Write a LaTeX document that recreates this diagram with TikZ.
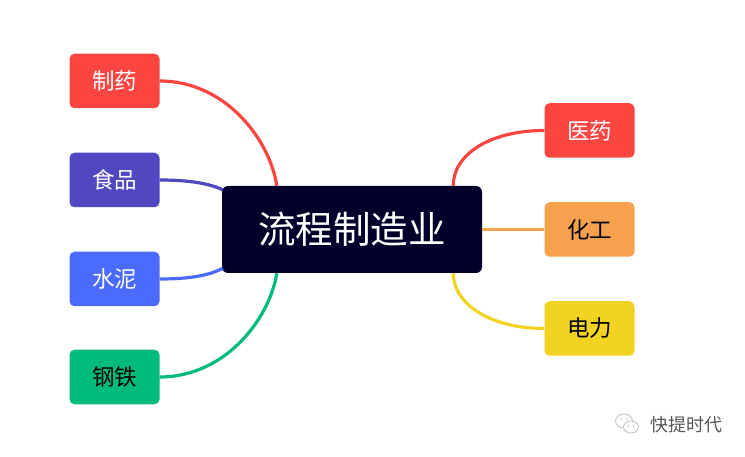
\documentclass[tikz,border=0pt]{standalone}
\usepackage{fontspec}
\setmainfont{Noto Sans CJK SC}
\usetikzlibrary{calc}
\definecolor{cred}{HTML}{FA4540}
\definecolor{cpurple}{HTML}{5048C0}
\definecolor{cblue}{HTML}{4A6BFE}
\definecolor{cgreen}{HTML}{00BC7A}
\definecolor{cnavy}{HTML}{00002A}
\definecolor{corange}{HTML}{F5A14D}
\definecolor{cyellow}{HTML}{F2D322}
\definecolor{cgray}{HTML}{555555}
\definecolor{clight}{HTML}{BBBBBB}
\tikzset{
  leaf/.style={rounded corners=5pt, minimum width=90pt, minimum height=54.5pt, inner sep=0pt, font=\fontsize{22.5}{22.5}\selectfont},
  rootbox/.style={fill=cnavy, rounded corners=6pt, minimum width=260pt, minimum height=87pt, inner sep=0pt, text=white, font=\fontsize{37.5}{37.5}\selectfont},
  link/.style={line width=3.2pt}
}
\begin{document}
\begin{tikzpicture}[x=1pt,y=-1pt]
\useasboundingbox (0,0) rectangle (745,457);
% root
\node[rootbox] (root) at (352,229.5) {流程制造业};
% left leaves
\node[leaf, fill=cred, text=white] (zy) at (114.5,81) {制药};
\node[leaf, fill=cpurple, text=white] (sp) at (114.5,180) {食品};
\node[leaf, fill=cblue, text=white] (sn) at (114.5,279) {水泥};
\node[leaf, fill=cgreen, text=black] (gt) at (114.5,377) {钢铁};
% right leaves
\node[leaf, fill=cred, text=white] (yy) at (589.5,130.5) {医药};
\node[leaf, fill=corange, text=black] (hg) at (589.5,229.5) {化工};
\node[leaf, fill=cyellow, text=black] (dl) at (589.5,328.5) {电力};
% connectors
\draw[link, cred] (zy.east) .. controls +(66,0) and +(-7,-46) .. ($(root.north west)+(55,0)$);
\draw[link, cpurple] (sp.east) .. controls +(31,0) and +(-13,-6) .. ($(root.north west)+(1,4)$);
\draw[link, cblue] (sn.east) .. controls +(31,0) and +(-13,7) .. ($(root.south west)+(1,-5)$);
\draw[link, cgreen] (gt.east) .. controls +(66,0) and +(-7,45) .. ($(root.south west)+(55,0)$);
\draw[link, cred] (yy.west) .. controls +(-55,0) and +(0,-31) .. ($(root.north east)+(-29,0)$);
\draw[link, corange] (root.east) -- (hg.west);
\draw[link, cyellow] (dl.west) .. controls +(-55,0) and +(0,30) .. ($(root.south east)+(-29,0)$);
% watermark
\node[font=\fontsize{18}{18}\selectfont, text=cgray, anchor=west, inner sep=0pt] (wm) at (650,425) {快提时代};
\draw[clight, line width=0.8pt] (624,421) ellipse [x radius=8.5pt, y radius=7pt];
\draw[clight, line width=0.8pt, fill=white] (631,427) ellipse [x radius=7.5pt, y radius=6pt];
\fill[clight] (621,419) circle (0.9pt) (627,419) circle (0.9pt) (628.5,426) circle (0.8pt) (633.5,426) circle (0.8pt);
\end{tikzpicture}
\end{document}
